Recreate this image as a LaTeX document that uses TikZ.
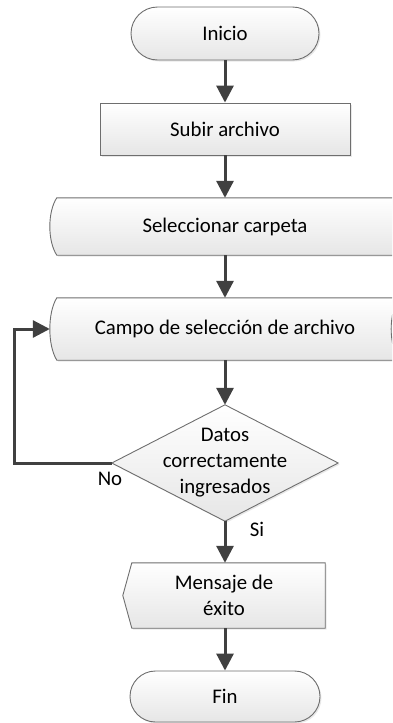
\documentclass[tikz,border=0pt]{standalone}
\usepackage{fontspec}
\setmainfont{Carlito}
\usetikzlibrary{arrows.meta,shapes.misc,shadows,calc}
\definecolor{bord}{HTML}{6E6E6E}
\definecolor{arr}{HTML}{404040}
\definecolor{shadebot}{HTML}{E6E6E6}
\pgfdeclarelayer{bg}
\pgfsetlayers{bg,main}
\begin{document}
\begin{tikzpicture}[x=1pt,y=-1pt,
 txt/.style={font=\fontsize{20.8}{26}\selectfont, text=black, align=center},
 boxfill/.style={draw=bord, line width=0.9pt, top color=white, bottom color=shadebot,
   drop shadow={opacity=0.18,shadow xshift=1.5pt,shadow yshift=-1.5pt}},
 term/.style={rounded rectangle, boxfill, txt, minimum width=188pt, minimum height=52pt, inner sep=0pt},
 procbox/.style={rectangle, boxfill, txt, inner sep=0pt},
 frame/.style={rectangle, draw=none, txt, inner sep=0pt},
 flow/.style={draw=arr, line width=3pt, -{Triangle[length=17pt,width=17pt]}}
]
\useasboundingbox (0,0) rectangle (392,723);

\node[term, minimum height=53pt] (ini) at (225,33.5) {Inicio};
\node[procbox, minimum width=250pt, minimum height=52pt] (sub) at (225,129) {Subir archivo};
\node[frame, minimum width=350pt, minimum height=57pt] (sel) at (225,226.5) {Seleccionar carpeta};
\node[frame, minimum width=350pt, minimum height=62pt] (campo) at (225,329) {Campo de selección de archivo};
\node[frame, minimum width=226pt, minimum height=116pt] (dec) at (225,463) {Datos\\correctamente\\ingresados};
\node[frame, minimum width=202pt, minimum height=65pt] (men) at (224,595.5) {Mensaje de\\éxito};
\node[term, minimum width=190pt, minimum height=51pt] (fin) at (225,696.5) {Fin};

\node[txt] (no) at (110,479) {No};
\node[txt] (si) at (257,529) {Si};

\begin{pgfonlayer}{bg}
\begin{scope}
\clip (0,0) rectangle (392,723);
% stored data: Seleccionar carpeta
\path[boxfill] ($(sel.north west)+(7,0)$) -- ($(sel.north east)+(10,0)$)
  .. controls +(-10.7,14) and +(-10.7,-14) .. ($(sel.south east)+(10,0)$)
  -- ($(sel.south west)+(7,0)$)
  .. controls +(-9.3,-14) and +(-9.3,14) .. cycle;
% stored data: Campo
\path[boxfill] ($(campo.north west)+(7,0)$) -- ($(campo.north east)+(-1,0)$)
  .. controls +(-10.7,15) and +(-10.7,-15) .. ($(campo.south east)+(-1,0)$)
  -- ($(campo.south west)+(7,0)$)
  .. controls +(-9.3,-15) and +(-9.3,15) .. cycle;
% decision
\path[boxfill] (dec.north) -- (dec.east) -- (dec.south) -- (dec.west) -- cycle;
% display
\path[boxfill] ($(men.north west)+(9,0)$) -- (men.north east) -- (men.south east)
  -- ($(men.south west)+(9,0)$) -- (men.west) -- cycle;
\end{scope}
\end{pgfonlayer}

\coordinate (lp) at (14,463);
\draw[flow] (ini.south) -- (sub.north);
\draw[flow] (sub.south) -- (sel.north);
\draw[flow] (sel.south) -- (campo.north);
\draw[flow] (campo.south) -- (dec.north);
\draw[flow] (dec.south) -- (dec.south |- men.north);
\draw[flow] (fin.north |- men.south) -- (fin.north);
\draw[flow] (dec.west) -- (lp) |- (campo.west);
\end{tikzpicture}
\end{document}
